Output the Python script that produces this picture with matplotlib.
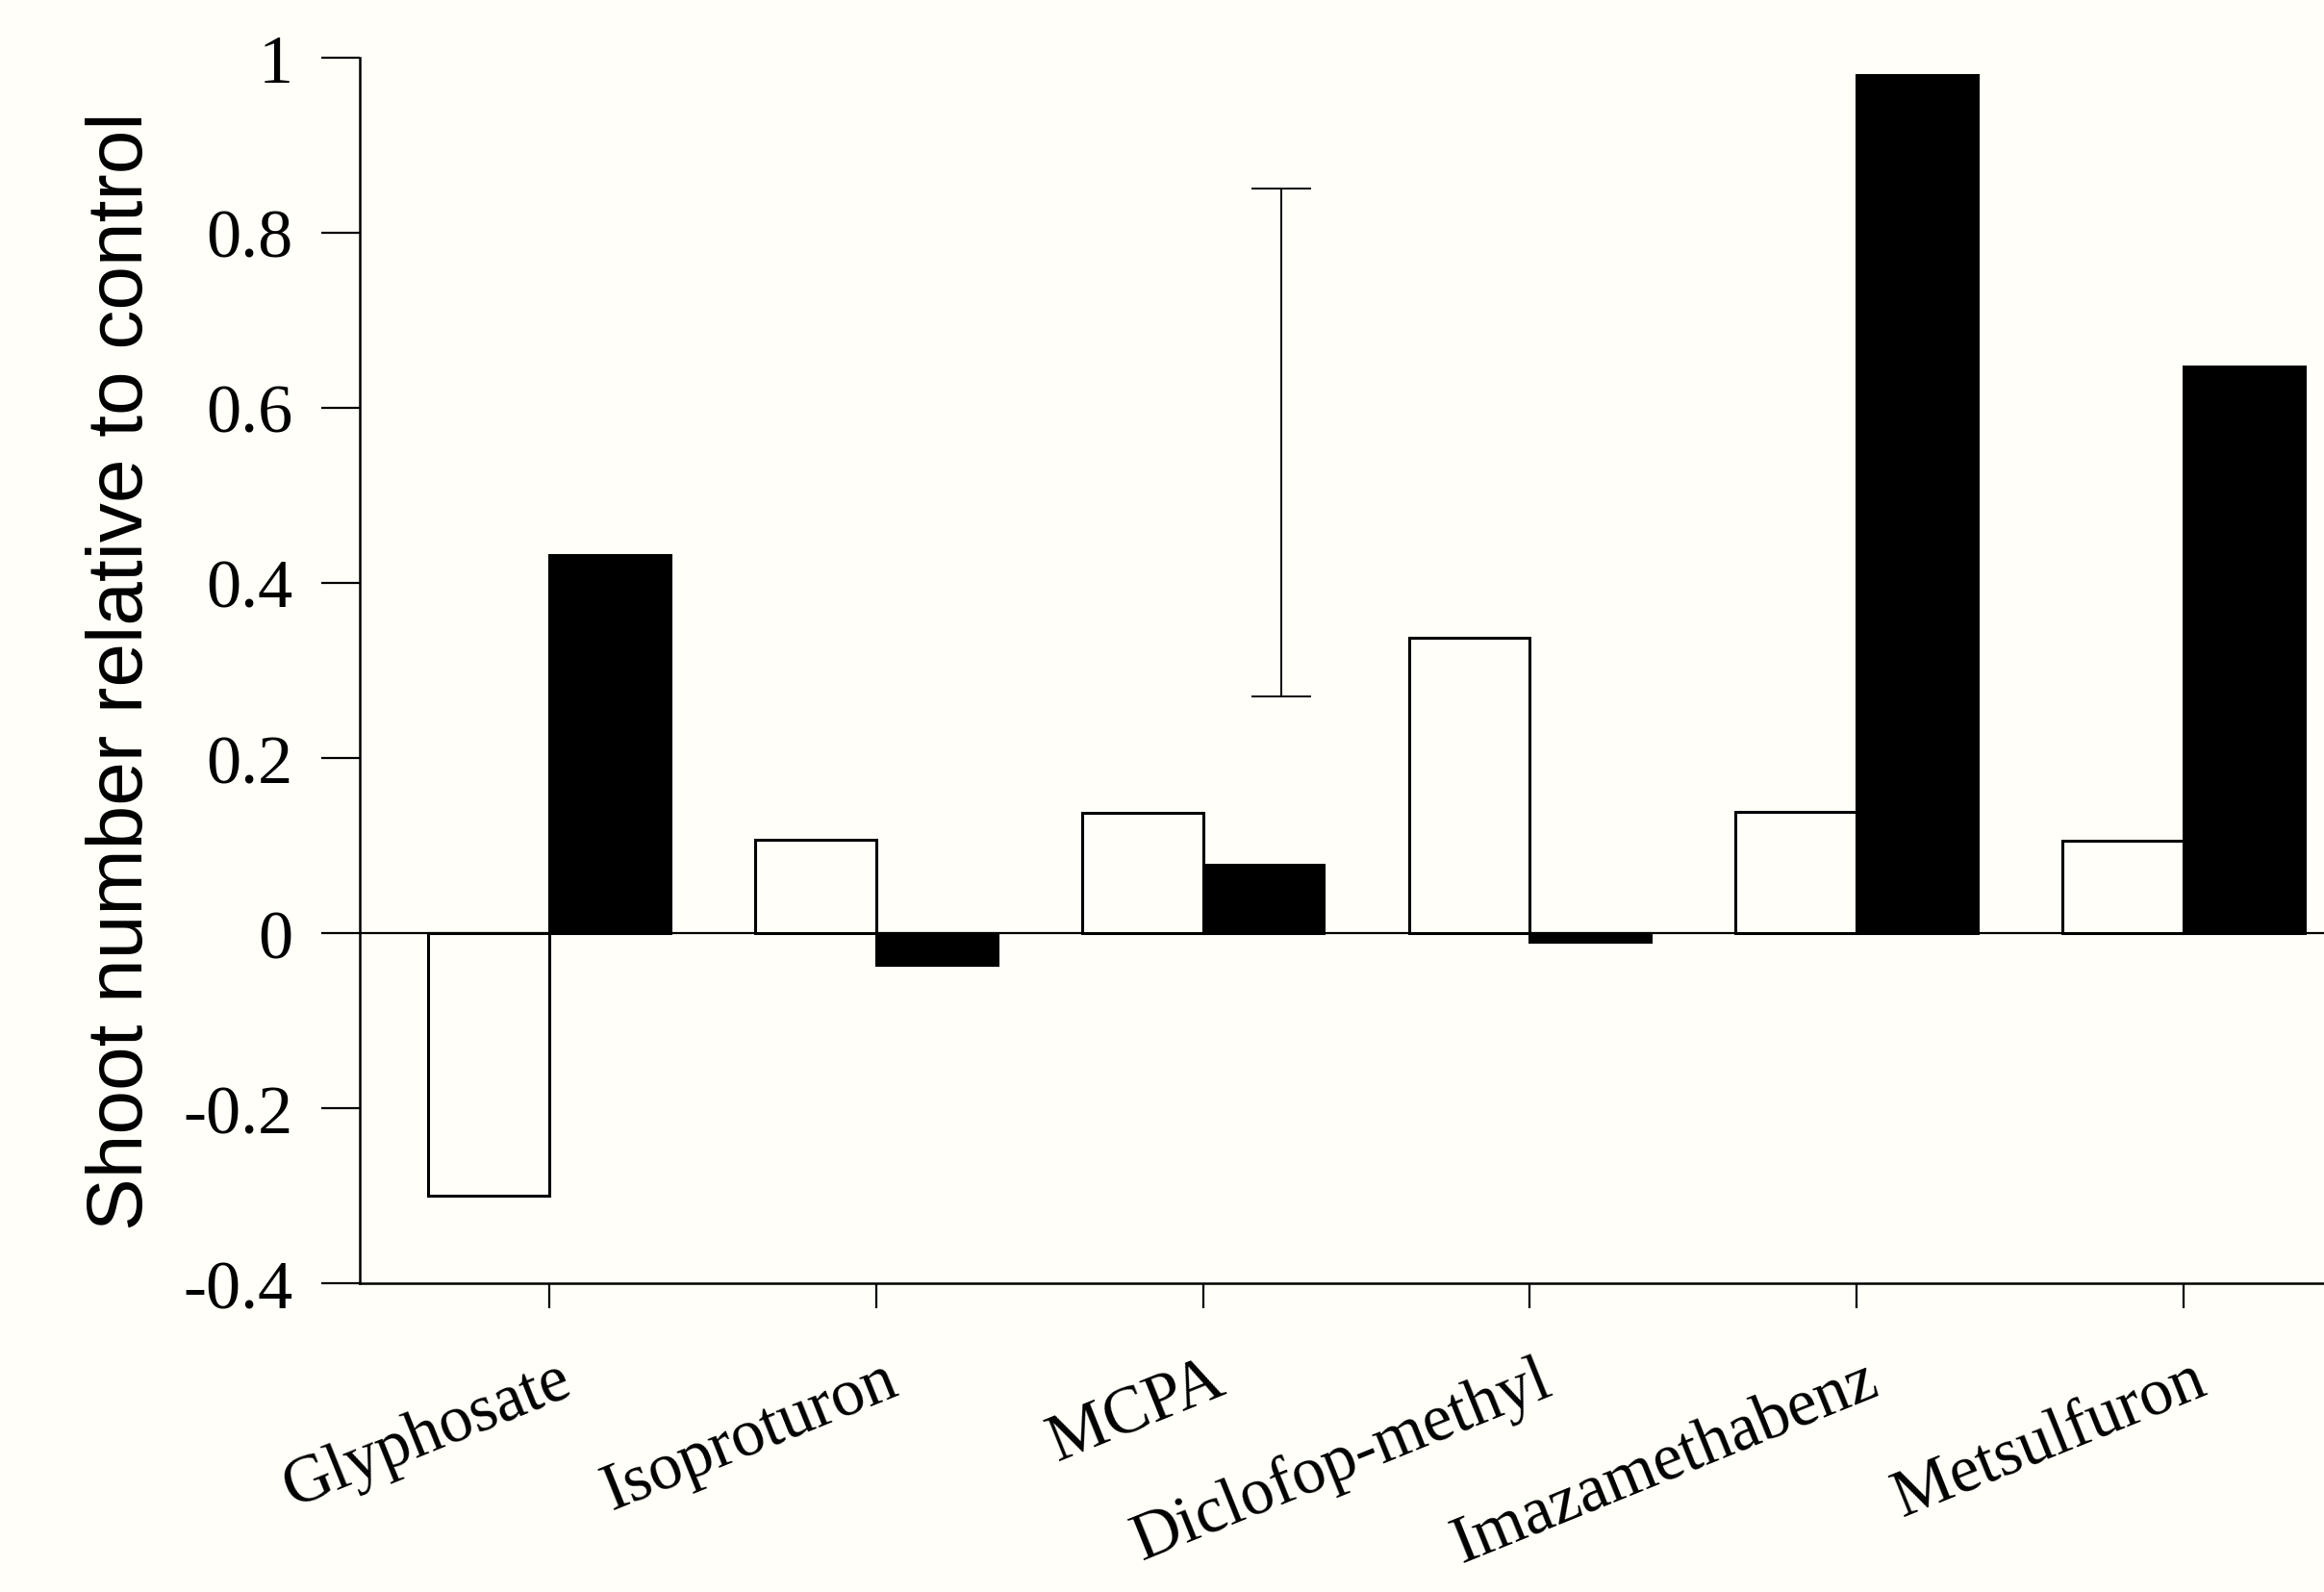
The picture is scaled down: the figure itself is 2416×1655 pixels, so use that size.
import matplotlib
matplotlib.use("Agg")
import matplotlib.pyplot as plt
import matplotlib.transforms as mtransforms
import numpy as np

# Herbicide treatments and shoot-number response relative to control
herbicides = ["Glyphosate", "Isoproturon", "MCPA", "Diclofop-methyl",
              "Imazamethabenz", "Metsulfuron"]
open_values = [-0.30, 0.107, 0.137, 0.337, 0.139, 0.105]
filled_values = [0.432, -0.036, 0.078, -0.01, 0.98, 0.647]

# Single reference error bar (least significant difference)
lsd_x = 2.24
lsd_center = 0.56
lsd_half = 0.29

y_ticks = [-0.4, -0.2, 0, 0.2, 0.4, 0.6, 0.8, 1]
y_ticklabels = ["-0.4", "-0.2", "0", "0.2", "0.4", "0.6", "0.8", "1"]

bg = "#fffef8"
fig = plt.figure(figsize=(24.16, 16.56), dpi=100, facecolor=bg)
ax = fig.add_axes([0.1548, 0.1938, 0.8452, 0.7694], facecolor=bg)

x = np.arange(len(herbicides))
w = 0.37
ax.bar(x - w / 2, open_values, width=w, color=bg, edgecolor="black",
       linewidth=2.2, zorder=3)
ax.bar(x + w / 2, filled_values, width=w, color="black", edgecolor="black",
       linewidth=2.2, zorder=3)

ax.axhline(0, color="black", linewidth=1.6, zorder=2)

ax.errorbar([lsd_x], [lsd_center], yerr=[lsd_half], fmt="none",
            ecolor="black", elinewidth=1.4, capsize=22, capthick=1.4, zorder=4)

ax.set_xlim(-0.58, 5.43)
ax.set_ylim(-0.4, 1.0)

for side in ("top", "right"):
    ax.spines[side].set_visible(False)
for side in ("left", "bottom"):
    ax.spines[side].set_linewidth(1.8)

serif = ["Liberation Serif", "DejaVu Serif"]

ax.set_yticks(y_ticks)
ax.set_yticklabels(y_ticklabels, family=serif, fontsize=52)
ax.tick_params(axis="y", direction="out", length=29, width=1.6, pad=21)

ax.set_xticks(x)
ax.set_xticklabels(herbicides, family=serif, fontsize=50, rotation=22,
                   ha="right", rotation_mode="anchor")
ax.tick_params(axis="x", direction="out", length=19, width=1.6, pad=30)
offset = mtransforms.ScaledTranslation(0.08, 0, fig.dpi_scale_trans)
for lbl in ax.get_xticklabels():
    lbl.set_transform(lbl.get_transform() + offset)

ax.set_ylabel("Shoot number relative to control",
              family=["Liberation Sans", "DejaVu Sans"],
              fontsize=59, labelpad=18)

fig.savefig("out.png", dpi=100, facecolor=bg)
